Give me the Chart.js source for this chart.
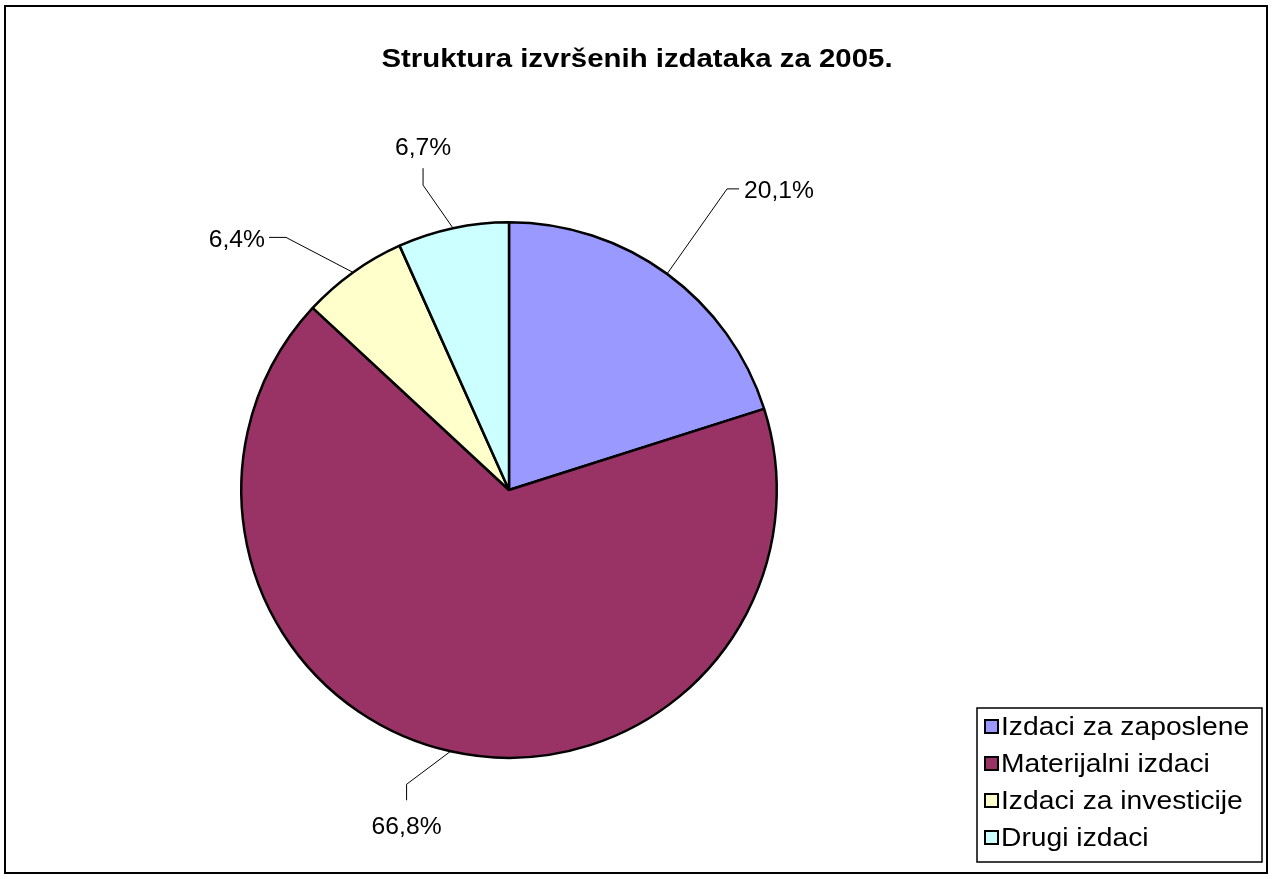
<!DOCTYPE html>
<html>
<head>
<meta charset="utf-8">
<script src="https://cdn.jsdelivr.net/npm/chart.js@4/dist/chart.umd.min.js"></script>
<style>
  html, body { margin: 0; padding: 0; background: #fff; }
  #wrap { width: 1273px; height: 879px; position: relative; }
</style>
</head>
<body>
<div id="wrap"><canvas id="myChart"></canvas></div>
<script>
// data
const chartTitle = 'Struktura izvršenih izdataka za 2005.';
const categories = ['Izdaci za zaposlene', 'Materijalni izdaci', 'Izdaci za investicije', 'Drugi izdaci'];
const shares = [20.1, 66.8, 6.4, 6.7];
const valueLabels = ['20,1%', '66,8%', '6,4%', '6,7%'];
const sliceColors = ['#9999FF', '#993366', '#FFFFCC', '#CCFFFF'];

// leader lines: elbow + end offsets from the slice edge point, text side
const leaders = [
  { elbow: [60, -85], end: [72, -85], side: 'right' },
  { elbow: [-44, 33], end: [-44, 49], side: 'below' },
  { elbow: [-67, -35], end: [-84, -35], side: 'left' },
  { elbow: [-30, -43], end: [-30, -60], side: 'above' }
];

const FONT = '"Liberation Sans", Arial, sans-serif';

// text in the picture is drawn a little wide
function wideText(ctx, text, x, y, align, sx) {
  ctx.save();
  ctx.translate(x, y);
  ctx.scale(sx, 1);
  ctx.textAlign = align;
  ctx.fillText(text, 0, 0);
  ctx.restore();
}

const decorations = {
  id: 'decorations',
  afterDraw(chart) {
    const ctx = chart.ctx;
    ctx.save();
    // outer frame
    ctx.strokeStyle = '#000';
    ctx.lineWidth = 2;
    ctx.strokeRect(5, 6, 1262, 867);

    // title
    ctx.fillStyle = '#000';
    ctx.font = 'bold 26px ' + FONT;
    ctx.textBaseline = 'alphabetic';
    wideText(ctx, chartTitle, 637, 67, 'center', 1.13);

    // value labels with leader lines
    const meta = chart.getDatasetMeta(0);
    ctx.font = '23.5px ' + FONT;
    ctx.lineWidth = 1;
    meta.data.forEach((arc, i) => {
      const p = arc.getProps(['x', 'y', 'startAngle', 'endAngle', 'outerRadius'], true);
      const mid = (p.startAngle + p.endAngle) / 2;
      const ex = p.x + Math.cos(mid) * p.outerRadius;
      const ey = p.y + Math.sin(mid) * p.outerRadius;
      const L = leaders[i];
      const bx = ex + L.elbow[0], by = ey + L.elbow[1];
      const cx = ex + L.end[0], cy = ey + L.end[1];
      ctx.beginPath();
      ctx.moveTo(ex, ey);
      ctx.lineTo(bx, by);
      ctx.lineTo(cx, cy);
      ctx.stroke();
      if (L.side === 'right') {
        ctx.textBaseline = 'middle';
        wideText(ctx, valueLabels[i], cx + 5, cy + 3, 'left', 1.05);
      } else if (L.side === 'left') {
        ctx.textBaseline = 'middle';
        wideText(ctx, valueLabels[i], cx - 4, cy + 3, 'right', 1.05);
      } else if (L.side === 'below') {
        ctx.textBaseline = 'top';
        wideText(ctx, valueLabels[i], cx, cy + 15, 'center', 1.05);
      } else {
        ctx.textBaseline = 'bottom';
        wideText(ctx, valueLabels[i], cx, cy - 8, 'center', 1.05);
      }
    });

    // legend box
    ctx.lineWidth = 1.5;
    ctx.strokeRect(977, 708, 285, 154);
    ctx.font = '25px ' + FONT;
    ctx.textBaseline = 'middle';
    categories.forEach((name, i) => {
      const y = 727 + i * 37;
      ctx.fillStyle = sliceColors[i];
      ctx.fillRect(985, y - 7, 13, 13);
      ctx.lineWidth = 2;
      ctx.strokeStyle = '#000';
      ctx.strokeRect(985, y - 7, 13, 13);
      ctx.fillStyle = '#000';
      wideText(ctx, name, 1001, y + 1, 'left', 1.13);
    });
    ctx.restore();
  }
};

new Chart(document.getElementById('myChart'), {
  type: 'pie',
  data: {
    labels: categories,
    datasets: [{
      data: shares,
      backgroundColor: sliceColors,
      borderColor: '#000',
      borderWidth: 2.5
    }]
  },
  options: {
    responsive: true,
    maintainAspectRatio: false,
    animation: false,
    layout: { padding: { left: 240, right: 495, top: 221, bottom: 120 } },
    plugins: {
      legend: { display: false },
      title: { display: false },
      tooltip: { enabled: false }
    }
  },
  plugins: [decorations]
});
</script>
</body>
</html>
